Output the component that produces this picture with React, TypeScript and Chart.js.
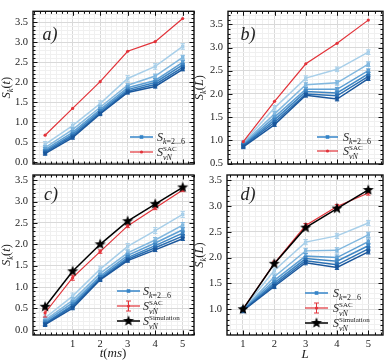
import React, { useEffect, useRef } from 'react';
import { Chart, registerables } from 'chart.js';

Chart.register(...registerables);

const W = 388;
const H = 361;

// ---------- axes / ticks ----------
const tTimes = [0, 1, 2, 3, 4, 5];
const lSizes = [1, 2, 3, 4, 5];
const tTickLabels = [1, 2, 3, 4, 5];
const lTickLabels = [1, 2, 3, 4, 5];
const yTicksT = [0, 0.5, 1, 1.5, 2, 2.5, 3, 3.5];
const yTicksL = [0.5, 1, 1.5, 2, 2.5, 3, 3.5];

// ---------- panel a) S_k(t) ----------
const aBlue1 = [0.45, 0.92, 1.47, 2.1, 2.4, 2.9];
const aBlue2 = [0.37, 0.82, 1.38, 1.93, 2.16, 2.63];
const aBlue3 = [0.32, 0.75, 1.32, 1.87, 2.05, 2.5];
const aBlue4 = [0.28, 0.7, 1.28, 1.82, 2.0, 2.44];
const aBlue5 = [0.25, 0.66, 1.24, 1.78, 1.95, 2.38];
const aBlue6 = [0.22, 0.62, 1.21, 1.75, 1.9, 2.33];
const aBlueErr = [0.07, 0.05, 0.05, 0.04, 0.04, 0.04];
const aSac = [0.68, 1.35, 2.02, 2.78, 3.02, 3.6];

// ---------- panel b) S_k(L) ----------
const bBlue1 = [0.95, 1.7, 2.34, 2.53, 2.9];
const bBlue2 = [0.93, 1.57, 2.2, 2.24, 2.64];
const bBlue3 = [0.91, 1.5, 2.1, 2.1, 2.5];
const bBlue4 = [0.89, 1.44, 2.05, 2.02, 2.43];
const bBlue5 = [0.88, 1.39, 2.0, 1.96, 2.38];
const bBlue6 = [0.86, 1.34, 1.97, 1.89, 2.33];
const bBlueErr = [0.05, 0.05, 0.04, 0.04, 0.04, 0.04];
const bSac = [0.97, 1.84, 2.65, 3.09, 3.59];

// ---------- panel c) S_k(t) with simulation ----------
const cBlue1 = [0.28, 0.79, 1.42, 1.95, 2.32, 2.7];
const cBlue2 = [0.23, 0.69, 1.32, 1.8, 2.1, 2.45];
const cBlue3 = [0.19, 0.63, 1.26, 1.74, 2.03, 2.34];
const cBlue4 = [0.16, 0.58, 1.22, 1.69, 1.97, 2.26];
const cBlue5 = [0.14, 0.55, 1.19, 1.65, 1.92, 2.19];
const cBlue6 = [0.12, 0.51, 1.17, 1.62, 1.87, 2.13];
const cBlueErr = [0.07, 0.06, 0.05, 0.05, 0.04, 0.04];
const cSac = [0.4, 1.22, 1.83, 2.43, 2.85, 3.27];
const cSacErr = [0.1, 0.06, 0.04, 0.04, 0.04, 0.04];
const cSim = [0.54, 1.37, 2.0, 2.54, 2.94, 3.33];

// ---------- panel d) S_k(L) with simulation ----------
const dBlue1 = [1.0, 1.75, 2.3, 2.42, 2.67];
const dBlue2 = [0.99, 1.63, 2.13, 2.14, 2.44];
const dBlue3 = [0.99, 1.56, 2.03, 2.0, 2.31];
const dBlue4 = [0.98, 1.51, 1.98, 1.93, 2.23];
const dBlue5 = [0.98, 1.47, 1.94, 1.86, 2.17];
const dBlue6 = [0.97, 1.44, 1.9, 1.81, 2.11];
const dBlueErr = [0.05, 0.05, 0.05, 0.04, 0.04, 0.04];
const dSac = [1.0, 1.89, 2.62, 2.99, 3.25];
const dSacErr = [0.02, 0.04, 0.04, 0.04, 0.04];
const dSim = [1.0, 1.88, 2.58, 2.95, 3.31];

// ---------- styles ----------
const FONT = '"Liberation Serif", "DejaVu Serif", serif';
const TXT = '#222';
const GRID_MAJOR = '#d9d9d9';
const GRID_MINOR = '#f0f0f0';
const RED = '#e2333a';
const BLUES = ['#a8cfe9', '#82b8df', '#5e9fd3', '#3f86c3', '#2a6fb2', '#1a579c'];
const LEGEND_BLUE = '#3584c8';
const Y_AXIS_W = 24;
const X_AXIS_H = 16;

type Part = { t: string; it?: boolean; s: number; dy?: number; stack?: boolean };

const partFont = (p: Part) => `${p.it ? 'italic ' : ''}${p.s}px ${FONT}`;

function partsWidth(ctx: CanvasRenderingContext2D, parts: Part[]) {
  let w = 0;
  let pending = 0;
  for (const p of parts) {
    ctx.font = partFont(p);
    const pw = ctx.measureText(p.t).width;
    if (p.stack) {
      pending = pw;
      continue;
    }
    w += Math.max(pw, pending);
    pending = 0;
  }
  return w + pending;
}

function drawParts(ctx: CanvasRenderingContext2D, parts: Part[], x: number, y: number, align: 'left' | 'center') {
  const w = partsWidth(ctx, parts);
  let cx = align === 'center' ? x - w / 2 : x;
  let pending = 0;
  ctx.textAlign = 'left';
  ctx.textBaseline = 'alphabetic';
  for (const p of parts) {
    ctx.font = partFont(p);
    const pw = ctx.measureText(p.t).width;
    ctx.fillText(p.t, cx, y + (p.dy || 0));
    if (p.stack) {
      pending = pw;
      continue;
    }
    cx += Math.max(pw, pending);
    pending = 0;
  }
}

const yTitle = (v: string): Part[] => [
  { t: 'S', it: true, s: 12.5 },
  { t: 'k', it: true, s: 8.5, dy: 2.5 },
  { t: '(', s: 12.5 },
  { t: v, it: true, s: 12.5 },
  { t: ')', s: 12.5 },
];

const legBlue: Part[] = [
  { t: 'S', it: true, s: 12 },
  { t: 'k', it: true, s: 8, dy: 3 },
  { t: '=2...6', s: 8, dy: 3 },
];
const legSac: Part[] = [
  { t: 'S', it: true, s: 12 },
  { t: 'SAC', s: 7, dy: -5.5, stack: true },
  { t: 'vN', it: true, s: 8, dy: 3.5 },
];
const legSim: Part[] = [
  { t: 'S', it: true, s: 12 },
  { t: 'Simulation', s: 7, dy: -5.5, stack: true },
  { t: 'vN', it: true, s: 8, dy: 3.5 },
];

interface Panel {
  xs: number[];
  blues: number[][];
  blueErr: number[];
  sac: number[];
  sacErr: number[] | null;
  sim: number[] | null;
  xMin: number;
  xMax: number;
  yMin: number;
  yMax: number;
  xMajor: number[];
  yMajor: number[];
  showX: boolean;
  area: { l: number; t: number; r: number; b: number };
  deco: any;
}

const PANELS: Panel[] = [
  {
    xs: tTimes,
    blues: [aBlue1, aBlue2, aBlue3, aBlue4, aBlue5, aBlue6],
    blueErr: aBlueErr,
    sac: aSac,
    sacErr: null,
    sim: null,
    xMin: -0.44, xMax: 5.41, yMin: -0.04, yMax: 3.78,
    xMajor: tTickLabels, yMajor: yTicksT, showX: false,
    area: { l: 33, t: 5, r: 194, b: 164 },
    deco: {
      label: 'a)', labelX: 50, labelY: 35,
      yTitle: yTitle('t'), yTitleX: 7,
      xTitle: null,
      legend: { x1: 130, x2: 153, tx: 157, ys: [137, 152], items: [['blue', legBlue], ['red', legSac]] },
    },
  },
  {
    xs: lSizes,
    blues: [bBlue1, bBlue2, bBlue3, bBlue4, bBlue5, bBlue6],
    blueErr: bBlueErr,
    sac: bSac,
    sacErr: null,
    sim: null,
    xMin: 0.51, xMax: 5.47, yMin: 0.49, yMax: 3.78,
    xMajor: lTickLabels, yMajor: yTicksL, showX: false,
    area: { l: 228, t: 5, r: 383, b: 164 },
    deco: {
      label: 'b)', labelX: 248, labelY: 35,
      yTitle: yTitle('L'), yTitleX: 200,
      xTitle: null,
      legend: { x1: 317, x2: 338, tx: 343, ys: [137, 151], items: [['blue', legBlue], ['red', legSac]] },
    },
  },
  {
    xs: tTimes,
    blues: [cBlue1, cBlue2, cBlue3, cBlue4, cBlue5, cBlue6],
    blueErr: cBlueErr,
    sac: cSac,
    sacErr: cSacErr,
    sim: cSim,
    xMin: -0.44, xMax: 5.41, yMin: -0.12, yMax: 3.62,
    xMajor: tTickLabels, yMajor: yTicksT, showX: true,
    area: { l: 33, t: 175, r: 194, b: 335 },
    deco: {
      label: 'c)', labelX: 51, labelY: 195,
      yTitle: yTitle('t'), yTitleX: 7,
      xTitle: [
        { t: 't', it: true, s: 13 },
        { t: '(', s: 13 },
        { t: 'ms', it: true, s: 13 },
        { t: ')', s: 13 },
      ],
      xTitleX: 113, xTitleY: 357,
      legend: { x1: 117, x2: 140, tx: 143, ys: [291, 306, 321], items: [['blue', legBlue], ['redErr', legSac], ['star', legSim]] },
    },
  },
  {
    xs: lSizes,
    blues: [dBlue1, dBlue2, dBlue3, dBlue4, dBlue5, dBlue6],
    blueErr: dBlueErr,
    sac: dSac,
    sacErr: dSacErr,
    sim: dSim,
    xMin: 0.49, xMax: 5.47, yMin: 0.5, yMax: 3.6,
    xMajor: lTickLabels, yMajor: yTicksL, showX: true,
    area: { l: 227, t: 175, r: 383, b: 335 },
    deco: {
      label: 'd)', labelX: 248, labelY: 195,
      yTitle: yTitle('L'), yTitleX: 200,
      xTitle: [{ t: 'L', it: true, s: 13 }],
      xTitleX: 305, xTitleY: 358,
      legend: { x1: 305, x2: 328, tx: 333, ys: [293, 308, 323], items: [['blue', legBlue], ['redErr', legSac], ['star', legSim]] },
    },
  },
];

function makeTicks(min: number, max: number, step: number, majors: number[]) {
  const out: { value: number; major: boolean }[] = [];
  const i0 = Math.ceil(min / step + 1e-9);
  const i1 = Math.floor(max / step - 1e-9);
  for (let i = i0; i <= i1; i++) {
    const v = Math.round(i * step * 1e6) / 1e6;
    out.push({ value: v, major: majors.some((m) => Math.abs(m - v) < 1e-6) });
  }
  return out;
}

function makeStar(r: number) {
  const c = document.createElement('canvas');
  const size = Math.ceil(r * 2 + 2);
  c.width = size;
  c.height = size;
  const g = c.getContext('2d')!;
  g.beginPath();
  for (let i = 0; i < 10; i++) {
    const ang = -Math.PI / 2 + (i * Math.PI) / 5;
    const rr = i % 2 === 0 ? r : r * 0.42;
    g.lineTo(size / 2 + rr * Math.cos(ang), size / 2 + rr * Math.sin(ang));
  }
  g.closePath();
  g.fillStyle = '#000';
  g.fill();
  return c;
}

const errorBarPlugin = {
  id: 'errbars',
  afterDatasetDraw(chart: any, args: any) {
    const ds = chart.data.datasets[args.index];
    if (ds.errors == null) return;
    const ys = chart.scales.y;
    const ctx = chart.ctx as CanvasRenderingContext2D;
    ctx.save();
    ctx.strokeStyle = ds.borderColor;
    ctx.lineWidth = 1;
    args.meta.data.forEach((pt: any, i: number) => {
      const v = ds.data[i].y;
      const e = Array.isArray(ds.errors) ? ds.errors[i] : ds.errors;
      const y1 = ys.getPixelForValue(v - e);
      const y2 = ys.getPixelForValue(v + e);
      ctx.beginPath();
      ctx.moveTo(pt.x, y1);
      ctx.lineTo(pt.x, y2);
      ctx.moveTo(pt.x - 2.2, y1);
      ctx.lineTo(pt.x + 2.2, y1);
      ctx.moveTo(pt.x - 2.2, y2);
      ctx.lineTo(pt.x + 2.2, y2);
      ctx.stroke();
    });
    ctx.restore();
  },
};

function makeDecoPlugin(star: HTMLCanvasElement) {
  return {
    id: 'deco',
    afterDraw(chart: any, _args: any, opts: any) {
      const ctx = chart.ctx as CanvasRenderingContext2D;
      const a = chart.chartArea;
      const xs = chart.scales.x;
      const ys = chart.scales.y;
      ctx.save();
      // inward ticks on all four sides
      ctx.strokeStyle = '#111';
      ctx.lineWidth = 1;
      ctx.beginPath();
      xs.ticks.forEach((t: any) => {
        const px = Math.round(xs.getPixelForValue(t.value)) + 0.5;
        const len = t.major ? 4.5 : 2.5;
        ctx.moveTo(px, a.bottom);
        ctx.lineTo(px, a.bottom - len);
        ctx.moveTo(px, a.top);
        ctx.lineTo(px, a.top + len);
      });
      ys.ticks.forEach((t: any) => {
        const py = Math.round(ys.getPixelForValue(t.value)) + 0.5;
        const len = t.major ? 4.5 : 2.5;
        ctx.moveTo(a.left, py);
        ctx.lineTo(a.left + len, py);
        ctx.moveTo(a.right, py);
        ctx.lineTo(a.right - len, py);
      });
      ctx.stroke();
      // frame
      ctx.lineWidth = 1.4;
      ctx.strokeStyle = '#111';
      ctx.strokeRect(a.left, a.top, a.right - a.left, a.bottom - a.top);

      ctx.fillStyle = TXT;
      // panel label
      ctx.font = `italic 18px ${FONT}`;
      ctx.textAlign = 'center';
      ctx.textBaseline = 'middle';
      ctx.fillText(opts.label, opts.labelX, opts.labelY);

      // y title (rotated)
      ctx.save();
      ctx.translate(opts.yTitleX + 3, (a.top + a.bottom) / 2);
      ctx.rotate(-Math.PI / 2);
      drawParts(ctx, opts.yTitle, 0, 0, 'center');
      ctx.restore();

      // x title
      if (opts.xTitle) {
        drawParts(ctx, opts.xTitle, opts.xTitleX, opts.xTitleY, 'center');
      }

      // legend
      const lg = opts.legend;
      lg.items.forEach((item: any, i: number) => {
        const [kind, parts] = item;
        const y = lg.ys[i];
        const mx = (lg.x1 + lg.x2) / 2;
        let col = LEGEND_BLUE;
        if (kind === 'red' || kind === 'redErr') col = RED;
        if (kind === 'star') col = '#000';
        ctx.strokeStyle = col;
        ctx.fillStyle = col;
        ctx.lineWidth = kind === 'star' || kind === 'blue' ? 1.5 : 1.2;
        ctx.beginPath();
        ctx.moveTo(lg.x1, y);
        ctx.lineTo(lg.x2, y);
        ctx.stroke();
        if (kind === 'blue') {
          ctx.fillRect(mx - 1.8, y - 1.8, 3.6, 3.6);
        } else if (kind === 'red') {
          ctx.beginPath();
          ctx.arc(mx, y, 1.6, 0, Math.PI * 2);
          ctx.fill();
        } else if (kind === 'redErr') {
          ctx.lineWidth = 1;
          ctx.beginPath();
          ctx.moveTo(mx, y - 5);
          ctx.lineTo(mx, y + 5);
          ctx.moveTo(mx - 2.5, y - 5);
          ctx.lineTo(mx + 2.5, y - 5);
          ctx.moveTo(mx - 2.5, y + 5);
          ctx.lineTo(mx + 2.5, y + 5);
          ctx.stroke();
          ctx.beginPath();
          ctx.arc(mx, y, 1.6, 0, Math.PI * 2);
          ctx.fill();
        } else if (kind === 'star') {
          ctx.drawImage(star, mx - star.width / 2, y - star.height / 2);
        }
        ctx.fillStyle = TXT;
        drawParts(ctx, parts, lg.tx, y + 4, 'left');
      });
      ctx.restore();
    },
  };
}

function buildConfig(p: Panel, star: HTMLCanvasElement): any {
  const pts = (vals: number[]) => p.xs.map((x, i) => ({ x, y: vals[i] }));
  const datasets: any[] = [];
  if (p.sim) {
    datasets.push({
      data: pts(p.sim),
      borderColor: '#000',
      backgroundColor: '#000',
      borderWidth: 1.5,
      pointStyle: star,
      pointRadius: 6,
      order: 0,
    });
  }
  datasets.push({
    data: pts(p.sac),
    borderColor: RED,
    backgroundColor: RED,
    borderWidth: 1.2,
    pointStyle: 'circle',
    pointRadius: 1.6,
    pointBorderWidth: 0,
    errors: p.sacErr,
    order: 1,
  });
  p.blues.forEach((vals, k) => {
    datasets.push({
      data: pts(vals),
      borderColor: BLUES[k],
      backgroundColor: BLUES[k],
      borderWidth: 1.5,
      pointStyle: 'rect',
      pointRadius: 2.4,
      pointBorderWidth: 0,
      errors: p.blueErr[k],
      order: 8 - k,
    });
  });

  const xTicks = makeTicks(p.xMin, p.xMax, 0.2, p.xMajor);
  const yTicks = makeTicks(p.yMin, p.yMax, 0.1, p.yMajor);
  const gridColor = (c: any) => (c.tick && c.tick.major ? GRID_MAJOR : GRID_MINOR);
  const xH = p.showX ? X_AXIS_H : 0;

  return {
    type: 'line',
    data: { datasets },
    options: {
      responsive: false,
      animation: false,
      devicePixelRatio: 1,
      events: [],
      layout: {
        autoPadding: false,
        padding: { left: p.area.l - Y_AXIS_W, top: p.area.t, right: W - p.area.r, bottom: H - p.area.b - xH },
      },
      elements: { line: { tension: 0, fill: false } },
      plugins: {
        legend: { display: false },
        tooltip: { enabled: false },
        deco: p.deco,
      },
      scales: {
        x: {
          type: 'linear',
          min: p.xMin,
          max: p.xMax,
          afterBuildTicks: (s: any) => {
            s.ticks = xTicks.map((t) => ({ ...t }));
          },
          afterFit: (s: any) => {
            s.height = xH;
          },
          border: { display: false },
          grid: { color: gridColor, lineWidth: 1, drawTicks: false },
          ticks: {
            display: p.showX,
            autoSkip: false,
            maxRotation: 0,
            minRotation: 0,
            padding: 3,
            color: TXT,
            font: { family: FONT, size: 10.5 },
            callback: (v: number, i: number, ticks: any[]) => (ticks[i] && ticks[i].major ? String(v) : ''),
          },
        },
        y: {
          type: 'linear',
          min: p.yMin,
          max: p.yMax,
          afterBuildTicks: (s: any) => {
            s.ticks = yTicks.map((t) => ({ ...t }));
          },
          afterFit: (s: any) => {
            s.width = Y_AXIS_W;
          },
          border: { display: false },
          grid: { color: gridColor, lineWidth: 1, drawTicks: false },
          ticks: {
            autoSkip: false,
            padding: 5,
            color: TXT,
            font: { family: FONT, size: 10.5 },
            callback: (v: number, i: number, ticks: any[]) => (ticks[i] && ticks[i].major ? v.toFixed(1) : ''),
          },
        },
      },
    },
    plugins: [errorBarPlugin, makeDecoPlugin(star)],
  };
}

export default function App() {
  const canvases = useRef<(HTMLCanvasElement | null)[]>([]);

  useEffect(() => {
    const star = makeStar(5.8);
    const charts = PANELS.map((p, i) => new Chart(canvases.current[i]!, buildConfig(p, star)));
    return () => charts.forEach((c) => c.destroy());
  }, []);

  return (
    <div style={{ position: 'absolute', left: 0, top: 0, width: W, height: H, background: '#fff' }}>
      {PANELS.map((_, i) => (
        <canvas
          key={i}
          ref={(el) => {
            canvases.current[i] = el;
          }}
          width={W}
          height={H}
          style={{ position: 'absolute', left: 0, top: 0, width: W, height: H }}
        />
      ))}
    </div>
  );
}
